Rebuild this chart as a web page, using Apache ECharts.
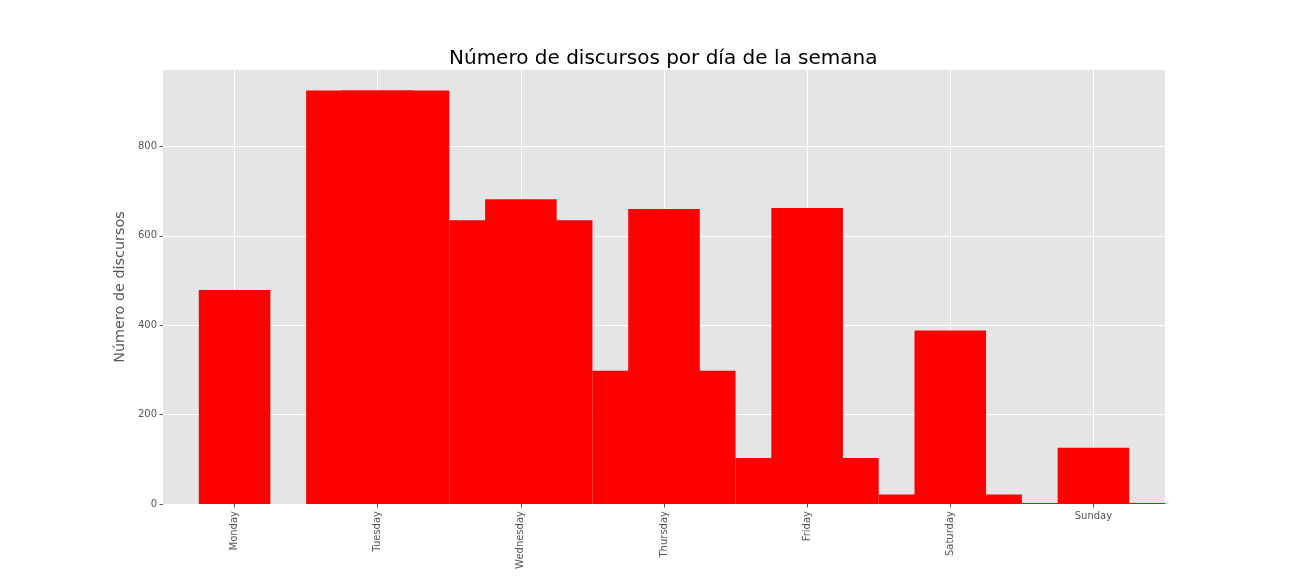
<!DOCTYPE html>
<html>
<head>
<meta charset="utf-8">
<script src="https://cdn.jsdelivr.net/npm/echarts@6/dist/echarts.min.js"></script>
<style>html,body{margin:0;padding:0;background:#fff;}#c{width:1296px;height:576px;}</style>
</head>
<body>
<div id="c"></div>
<script>
const days = ['Monday','Tuesday','Wednesday','Thursday','Friday','Saturday','Sunday'];
const wideValues = [0, 925, 635, 298, 103, 21, 2];
const narrowValues = [479, 925, 682, 660, 662, 388, 126];
const yTicks = [0, 200, 400, 600, 800];
const horizontalLabelDays = ['Sunday'];

const FONT = 'DejaVu Sans';
const chart = echarts.init(document.getElementById('c'), null, {renderer: 'canvas'});
chart.setOption({
  animation: false,
  textStyle: {fontFamily: FONT},
  title: {
    text: 'Número de discursos por día de la semana',
    left: 444, top: 44,
    textStyle: {fontFamily: FONT, fontSize: 20, fontWeight: 'normal', color: '#000'}
  },
  grid: {left: 163, right: 131, top: 70, bottom: 72, show: true, backgroundColor: '#E5E5E5', borderWidth: 0, containLabel: false},
  xAxis: [
    {
      type: 'category', data: days, position: 'bottom',
      axisLine: {show: false},
      axisTick: {show: true, alignWithLabel: true, length: 3.5, lineStyle: {color: '#555'}},
      splitLine: {show: true, alignWithLabel: true, lineStyle: {color: '#fff', width: 1}},
      axisLabel: {
        interval: 0, rotate: 90, margin: 7, fontSize: 10, color: '#555', fontFamily: FONT,
        formatter: v => horizontalLabelDays.includes(v) ? '' : v
      }
    },
    {
      type: 'category', data: days, position: 'bottom', offset: 0,
      axisLine: {show: false}, axisTick: {show: false}, splitLine: {show: false},
      axisLabel: {
        interval: 0, rotate: 0, margin: 7, fontSize: 10, color: '#555', fontFamily: FONT,
        formatter: v => horizontalLabelDays.includes(v) ? v : ''
      }
    }
  ],
  yAxis: {
    type: 'value', min: 0, max: 971, interval: 200,
    name: 'Número de discursos', nameLocation: 'middle', nameGap: 30,
    nameTextStyle: {fontFamily: FONT, fontSize: 14.4, color: '#555'},
    axisLine: {show: false},
    axisTick: {show: true, length: 3.5, lineStyle: {color: '#555'}, customValues: yTicks},
    axisLabel: {fontSize: 10, color: '#555', margin: 6, fontFamily: FONT, customValues: yTicks},
    splitLine: {show: true, lineStyle: {color: '#fff', width: 1}}
  },
  series: [
    {type: 'bar', xAxisIndex: 1, data: narrowValues, barWidth: '50%', itemStyle: {color: '#FF0000'}},
    {type: 'bar', xAxisIndex: 0, data: wideValues, barWidth: '100%', itemStyle: {color: '#FF0000'}}
  ]
});
</script>
</body>
</html>
